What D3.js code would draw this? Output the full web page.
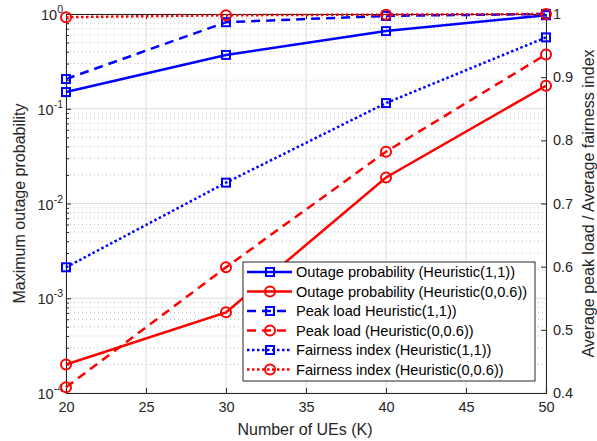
<!DOCTYPE html>
<html><head><meta charset="utf-8">
<script src="https://cdn.jsdelivr.net/npm/d3@7"></script>
<style>body{margin:0;background:#fff}text{font-family:"Liberation Sans",Arial,sans-serif}</style>
</head><body><svg id="c" width="597" height="441"></svg>
<script>
const ues = [20, 30, 40, 50];
const outage11 = [0.15, 0.37, 0.66, 0.97];
const outage006 = [2.0e-4, 7.1e-4, 0.0188, 0.175];
const peak11 = [0.897, 0.987, 0.997, 1.0];
const peak006 = [0.409, 0.599, 0.782, 0.936];
const fair11 = [0.599, 0.733, 0.859, 0.963];
const fair006 = [0.995, 0.998, 0.999, 1.0];
const xTicks = [20, 25, 30, 35, 40, 45, 50];
const yLeftTicks = [-4, -3, -2, -1, 0];
const yRightTicks = [0.4, 0.5, 0.6, 0.7, 0.8, 0.9, 1];
const legendLabels = ["Outage probability (Heuristic(1,1))","Outage probability (Heuristic(0,0.6))","Peak load Heuristic(1,1))","Peak load (Heuristic(0,0.6))","Fairness index (Heuristic(1,1))","Fairness index (Heuristic(0,0.6))"];

const L=66,R=546,T=14,B=393;
const svg=d3.select("#c");
const x=d3.scaleLinear().domain([20,50]).range([L,R]);
const yl=d3.scaleLog().domain([1e-4,1]).range([B,T]);
const yr=d3.scaleLinear().domain([0.4,1]).range([B,T]);

// minor grid
const minor=[];
for(let e=-4;e<0;e++) for(let k=2;k<=9;k++) minor.push(k*Math.pow(10,e));
svg.append("g").selectAll("line").data(minor).join("line")
 .attr("x1",L).attr("x2",R).attr("y1",d=>yl(d)).attr("y2",d=>yl(d))
 .attr("stroke","#bbb").attr("stroke-width",1).attr("stroke-dasharray","1,3");
// major grid
svg.append("g").selectAll("line").data(xTicks).join("line")
 .attr("x1",d=>x(d)).attr("x2",d=>x(d)).attr("y1",T).attr("y2",B)
 .attr("stroke","#dcdcdc").attr("stroke-width",1);
svg.append("g").selectAll("line").data(yLeftTicks).join("line")
 .attr("x1",L).attr("x2",R).attr("y1",d=>yl(Math.pow(10,d))).attr("y2",d=>yl(Math.pow(10,d)))
 .attr("stroke","#dcdcdc").attr("stroke-width",1);

// axes
const ax=d3.axisBottom(x).tickValues(xTicks).tickSize(-5).tickPadding(9);
const gx=svg.append("g").attr("transform",`translate(0,${B})`).call(ax);
const gxt=svg.append("g").attr("transform",`translate(0,${T})`).call(d3.axisTop(x).tickValues(xTicks).tickSize(-5).tickFormat(""));
const gl=svg.append("g").attr("transform",`translate(${L},0)`).call(d3.axisLeft(yl).tickValues(yLeftTicks.map(e=>Math.pow(10,e))).tickSize(-5).tickFormat(""));
const glm=svg.append("g").attr("transform",`translate(${L},0)`).call(d3.axisLeft(yl).tickValues(minor).tickSize(-3).tickFormat(""));
const gr=svg.append("g").attr("transform",`translate(${R},0)`).call(d3.axisRight(yr).tickValues(yRightTicks).tickSize(-5).tickPadding(7).tickFormat(d3.format("")));
[gx,gxt,gl,glm,gr].forEach(g=>{g.selectAll("path,line").attr("stroke","#262626");g.selectAll("text").attr("font-size",14.5).attr("fill","#262626").attr("font-family","Liberation Sans, Arial, sans-serif");});
gx.select(".domain").attr("stroke-width",1.2);
// left tick labels with superscript
const lab=svg.append("g");
yLeftTicks.forEach(e=>{
  const t=lab.append("text").attr("x",L-3).attr("y",yl(Math.pow(10,e))+6).attr("text-anchor","end")
   .attr("font-size",14.5).attr("fill","#262626");
  t.append("tspan").text("10");
  t.append("tspan").attr("dy",-7).attr("font-size",10.5).text(String(e));
});
svg.append("text").attr("transform",`translate(25,${(T+B)/2}) rotate(-90)`).attr("text-anchor","middle")
 .attr("font-size",16).attr("fill","#262626").text("Maximum outage probability");
svg.append("text").attr("transform",`translate(594,${(T+B)/2}) rotate(-90)`).attr("text-anchor","middle")
 .attr("font-size",16).attr("fill","#262626").text("Average peak load / Average fairness index");
svg.append("text").attr("x",(L+R)/2-1).attr("y",435).attr("text-anchor","middle")
 .attr("font-size",16).attr("fill","#262626").text("Number of UEs (K)");

const series=[
 {v:outage11,y:yl,c:"#0000ff",dash:null,m:"sq"},
 {v:outage006,y:yl,c:"#ff0000",dash:null,m:"ci"},
 {v:peak11,y:yr,c:"#0000ff",dash:"9,6",m:"sq"},
 {v:peak006,y:yr,c:"#ff0000",dash:"9,6",m:"ci"},
 {v:fair11,y:yr,c:"#0000ff",dash:"2.5,2.5",m:"sq"},
 {v:fair006,y:yr,c:"#ff0000",dash:"2.5,2.5",m:"ci"}];
const plot=svg.append("g");
function marker(g,type,c,cx,cy){
  if(type==="sq") g.append("rect").attr("x",cx-4).attr("y",cy-4).attr("width",8).attr("height",8).attr("fill","none").attr("stroke",c).attr("stroke-width",2);
  else g.append("circle").attr("cx",cx).attr("cy",cy).attr("r",5).attr("fill","none").attr("stroke",c).attr("stroke-width",2);
}
series.forEach(s=>{
  const line=d3.line().x((d,i)=>x(ues[i])).y(d=>s.y(d));
  plot.append("path").datum(s.v).attr("d",line).attr("fill","none").attr("stroke",s.c).attr("stroke-width",2.5)
   .attr("stroke-dasharray",s.dash);
  s.v.forEach((d,i)=>marker(plot,s.m,s.c,x(ues[i]),s.y(d)));
});

// legend
const lg=svg.append("g");
lg.append("rect").attr("x",243).attr("y",262).attr("width",292).attr("height",119).attr("fill","#fff").attr("stroke","#262626").attr("stroke-width",1);
legendLabels.forEach((t,i)=>{
  const s=series[i]; const yy=272+i*19.5;
  lg.append("line").attr("x1",247).attr("x2",292).attr("y1",yy).attr("y2",yy).attr("stroke",s.c).attr("stroke-width",2.5).attr("stroke-dasharray",s.dash);
  marker(lg,s.m,s.c,270,yy);
  lg.append("text").attr("x",296).attr("y",yy+5).attr("font-size",14.6).attr("fill","#000").text(t);
});
</script></body></html>
